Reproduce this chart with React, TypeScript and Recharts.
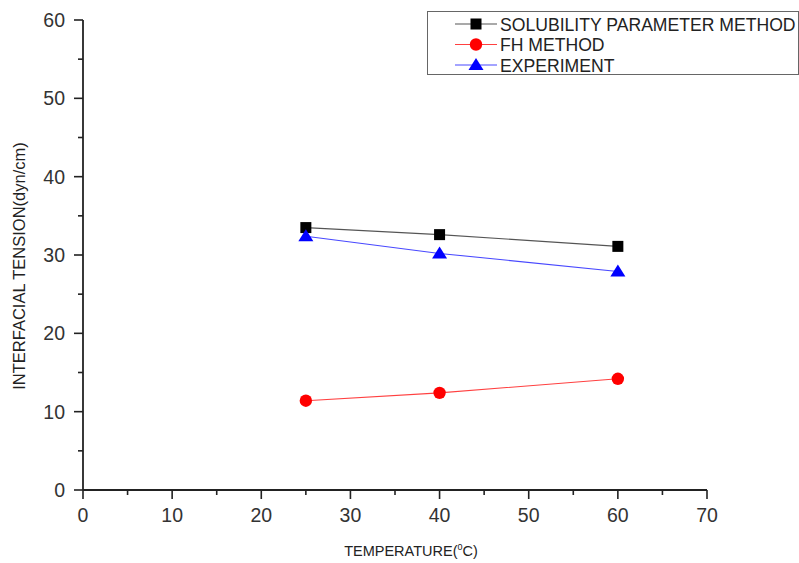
import { LineChart, Line, XAxis, YAxis } from 'recharts'

const temperatures = [25, 40, 60]
const solubilityMethod = [33.5, 32.6, 31.1]
const fhMethod = [11.4, 12.4, 14.2]
const experiment = [32.4, 30.2, 27.9]

const xTicks = [0, 5, 10, 15, 20, 25, 30, 35, 40, 45, 50, 55, 60, 65, 70]
const yTicks = [0, 5, 10, 15, 20, 25, 30, 35, 40, 45, 50, 55, 60]

const FONT = '"Liberation Sans", Arial, sans-serif'
const TICK = 9

const rows = temperatures.map((t, i) => ({
  t,
  sol: solubilityMethod[i],
  fh: fhMethod[i],
  exp: experiment[i],
}))

type Marker = 'square' | 'circle' | 'triangle'

function drawMarker(kind: Marker, cx: number, cy: number, color: string, key?: string | number) {
  if (kind === 'square') {
    return <rect key={key} x={cx - 5.5} y={cy - 5.5} width={11} height={11} fill={color} />
  }
  if (kind === 'circle') {
    return <circle key={key} cx={cx} cy={cy} r={6.2} fill={color} />
  }
  return (
    <polygon
      key={key}
      points={`${cx},${cy - 7} ${cx - 7.5},${cy + 5} ${cx + 7.5},${cy + 5}`}
      fill={color}
    />
  )
}

const series = [
  { key: 'sol', name: 'SOLUBILITY PARAMETER METHOD', line: '#555555', fill: '#000000', marker: 'square' as Marker },
  { key: 'fh', name: 'FH METHOD', line: '#ff4040', fill: '#ff0000', marker: 'circle' as Marker },
  { key: 'exp', name: 'EXPERIMENT', line: '#4848ff', fill: '#0000ff', marker: 'triangle' as Marker },
]

const XTick = (props: any) => {
  const { x, y, payload } = props
  const v = payload.value as number
  const major = v % 10 === 0
  const axisY = y - TICK
  return (
    <g>
      <line x1={x} x2={x} y1={axisY} y2={axisY + (major ? TICK : 5)} stroke="#222" strokeWidth={1.6} />
      {major && (
        <text x={x} y={axisY + 32} textAnchor="middle" fontSize={19.5} fill="#333" fontFamily={FONT}>
          {v}
        </text>
      )}
    </g>
  )
}

const YTick = (props: any) => {
  const { x, y, payload } = props
  const v = payload.value as number
  const major = v % 10 === 0
  const axisX = x + TICK
  return (
    <g>
      <line x1={axisX - (major ? TICK : 5)} x2={axisX} y1={y} y2={y} stroke="#222" strokeWidth={1.6} />
      {major && (
        <text x={axisX - 18} y={y + 7} textAnchor="end" fontSize={19.5} fill="#333" fontFamily={FONT}>
          {v}
        </text>
      )}
    </g>
  )
}

const XLabel = (props: any) => {
  const vb = props.viewBox
  return (
    <text x={vb.x + vb.width / 2 + 16} y={556} textAnchor="middle" fontSize={14.5} fill="#222" fontFamily={FONT}>
      <tspan>TEMPERATURE(</tspan>
      <tspan dy={-6} fontSize={9}>0</tspan>
      <tspan dy={6}>C)</tspan>
    </text>
  )
}

const YLabel = (props: any) => {
  const vb = props.viewBox
  const cy = vb.y + vb.height / 2 + 11
  return (
    <text
      x={25}
      y={cy}
      transform={`rotate(-90 25 ${cy})`}
      textAnchor="middle"
      fontSize={16.5}
      fill="#222"
      fontFamily={FONT}
    >
      INTERFACIAL TENSION(dyn/cm)
    </text>
  )
}

function LegendBox() {
  return (
    <svg width={372} height={66} style={{ position: 'absolute', left: 427, top: 11 }}>
      <rect x={0.5} y={0.5} width={371} height={63} fill="#fff" stroke="#666" strokeWidth={1} />
      {series.map((s, i) => {
        const cy = 13 + i * 20.5
        return (
          <g key={s.key}>
            <line x1={28} x2={70} y1={cy} y2={cy} stroke={s.line} strokeWidth={1.2} />
            {drawMarker(s.marker, 49, cy, s.fill)}
            <text x={73} y={cy + 6.5} fontSize={17.6} fill="#222" fontFamily={FONT}>
              {s.name}
            </text>
          </g>
        )
      })}
    </svg>
  )
}

export default function App() {
  return (
    <div style={{ position: 'absolute', left: 0, top: 0, width: 799, height: 563, background: '#fff' }}>
      <LineChart width={799} height={563} data={rows} margin={{ top: 20, right: 92, bottom: 0, left: 0 }}>
        <XAxis
          type="number"
          dataKey="t"
          domain={[0, 70]}
          ticks={xTicks}
          interval={0}
          height={73}
          tickSize={TICK}
          tickMargin={0}
          tickLine={false}
          tick={<XTick />}
          axisLine={{ stroke: '#222', strokeWidth: 1.8 }}
          label={<XLabel />}
        />
        <YAxis
          type="number"
          domain={[0, 60]}
          ticks={yTicks}
          interval={0}
          width={83}
          tickSize={TICK}
          tickMargin={0}
          tickLine={false}
          tick={<YTick />}
          axisLine={{ stroke: '#222', strokeWidth: 1.8 }}
          label={<YLabel />}
        />
        {series.map((s) => (
          <Line
            key={s.key}
            dataKey={s.key}
            name={s.name}
            type="linear"
            stroke={s.line}
            strokeWidth={1.1}
            isAnimationActive={false}
            dot={(p: any) => drawMarker(s.marker, p.cx, p.cy, s.fill, p.index)}
            activeDot={false}
          />
        ))}
      </LineChart>
      <LegendBox />
    </div>
  )
}
